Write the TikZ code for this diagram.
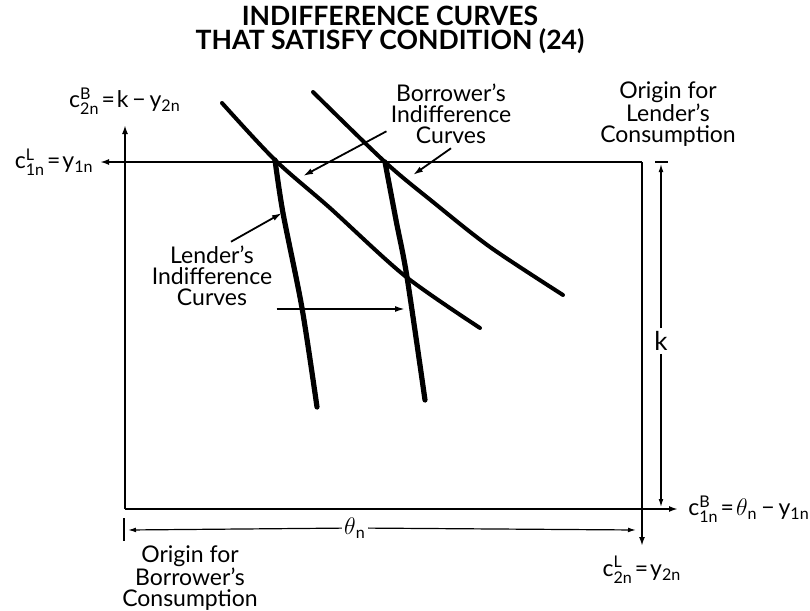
\documentclass[tikz,border=0pt]{standalone}
\usepackage{amsmath}
\usepackage{fontspec}
\setmainfont{Lato}
\usetikzlibrary{arrows.meta, positioning}

% variable with super- and subscript, and with subscript only
\newcommand{\svar}[3]{#1\ensuremath{^{\text{#2}}_{\text{#3}}}}
\newcommand{\sub}[2]{#1\ensuremath{_{\text{#2}}}}
\newcommand{\eq}{\kern1pt=\kern1pt}

\begin{document}
\begin{tikzpicture}[x=0.5pt, y=-0.5pt,
  font=\fontsize{11.5}{10.5}\selectfont,
  axisline/.style={line width=1pt, -{Latex[length=4.5pt,width=3pt]}},
  dimline/.style={line width=0.6pt, -{Latex[length=4pt,width=2.4pt]}},
  ptr/.style={line width=0.9pt, -{Latex[length=5pt,width=3pt]}},
  lcurve/.style={line width=2.6pt, line cap=round},
  bcurve/.style={line width=2pt, line cap=round},
  lab/.style={align=center, inner sep=2pt}]

\useasboundingbox (0,0) rectangle (810,611);

% Title
\node[font=\fontsize{13.3}{12}\selectfont\bfseries, align=center] (title) at (390,30)
  {INDIFFERENCE CURVES\\THAT SATISFY CONDITION (24)};

% Origins and axis ends
\coordinate (oL) at (642,162);
\coordinate (oB) at (125,509);
\coordinate (xL) at (100,162);
\coordinate (yL) at (642,546);
\coordinate (yB) at (125,125);
\coordinate (xB) at (678,509);

% Axes
\draw[axisline] (oL) -- (xL);
\draw[axisline] (oL) -- (yL);
\draw[axisline] (oB) -- (yB);
\draw[axisline] (oB) -- (xB);

% Axis labels
\node[left=1pt of xL, inner sep=2pt] (cL1) {\svar{c}{L}{1n}\eq\sub{y}{1n}};
\node[above=3pt of yB, inner sep=2pt] (cB2) {\svar{c}{B}{2n}\eq k\,\textminus\,\sub{y}{2n}};
\node[right=3pt of xB, inner sep=2pt] (cB1) {\svar{c}{B}{1n}\eq\sub{\ensuremath{\theta}}{n}\,\textminus\,\sub{y}{1n}};
\node[below=3pt of yL, inner sep=2pt] (cL2) {\svar{c}{L}{2n}\eq\sub{y}{2n}};

% Origin labels
\node[lab] (oLtxt) at (668,114) {Origin for\\Lender’s\\Consumption};
\node[lab] (oBtxt) at (190,578) {Origin for\\Borrower’s\\Consumption};

% Dimension k
\draw[line width=0.6pt] (655,162) -- (668,162);
\coordinate (kT) at (661,164);
\coordinate (kB) at (661,507);
\node[inner sep=1.5pt, font=\fontsize{13}{13}\selectfont] (klab) at (661,341) {k};
\draw[dimline] (klab) -- (kT);
\draw[dimline] (klab) -- (kB);

% Dimension theta
\draw[line width=0.6pt] (124,518) -- (124,541);
\coordinate (thL) at (128,530);
\coordinate (thR) at (636,530);
\node[inner sep=1pt] (thlab) at (355,528) {\sub{\ensuremath{\theta}}{n}};
\draw[dimline] (thlab) -- (thL);
\draw[dimline] (thlab) -- (thR);

% Borrower's indifference curves
\draw[bcurve] plot[smooth, tension=0.5] coordinates {(222,103) (275,160) (330,208) (405,276) (480,328)};
\draw[bcurve] plot[smooth, tension=0.5] coordinates {(313,92) (385,162) (433,202) (490,247) (563,295)};

% Lender's indifference curves
\draw[lcurve] plot[smooth, tension=0.5] coordinates {(275,160) (283,213) (302,308) (317,407)};
\draw[lcurve] plot[smooth, tension=0.5] coordinates {(385,162) (396,220) (407,277) (425,400)};

% Curve labels
\node[lab] (bLab) at (451,114) {Borrower’s\\Indifference\\Curves};
\node[lab] (lLab) at (212,276) {Lender’s\\Indifference\\Curves};

% Pointers
\coordinate (bTip1) at (413,175);
\coordinate (bTip2) at (303,176);
\coordinate (lTip) at (282,213);
\coordinate (hTip) at (405,309);
\draw[ptr] (bLab.south) -- (bTip1);
\draw[ptr] (bLab.195) -- (bTip2);
\draw[ptr] (lLab.61) -- (lTip);
\draw[ptr] (lLab.east |- hTip) -- (hTip);

\end{tikzpicture}
\end{document}
